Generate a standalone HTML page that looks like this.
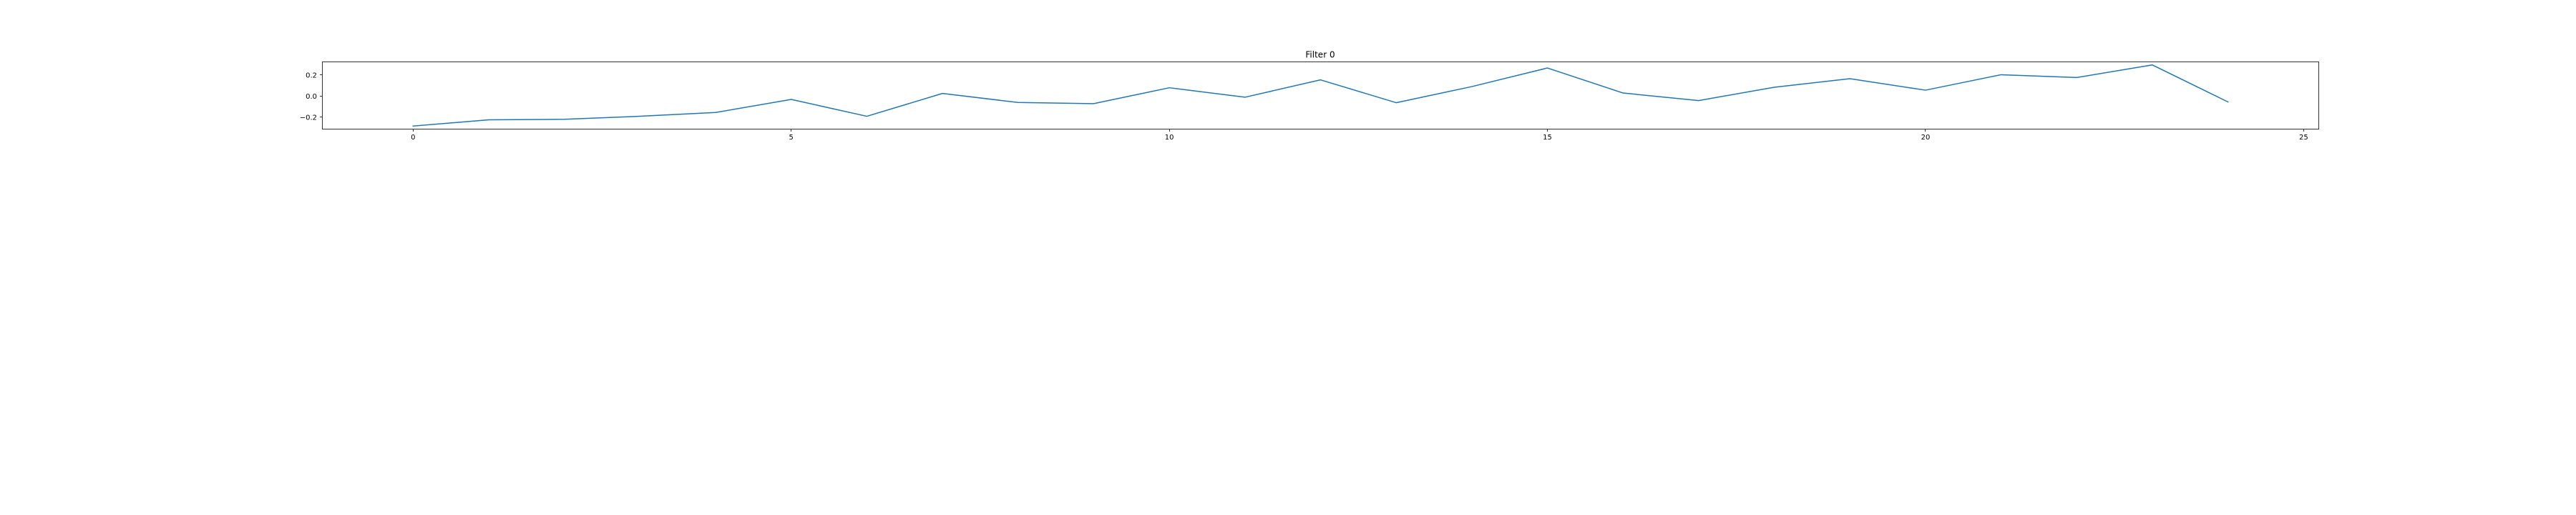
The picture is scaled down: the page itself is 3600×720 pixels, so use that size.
<!DOCTYPE html>
<html lang="en">
<head>
<meta charset="utf-8">
<title>Filter 0</title>
<style>
  html, body { margin: 0; padding: 0; background: #ffffff; }
  body { width: 3600px; height: 720px; overflow: hidden; }
  svg { display: block; }
  text { font-family: "DejaVu Sans", "Liberation Sans", sans-serif; fill: #000000; }
</style>
</head>
<body>
<svg id="chart" xmlns="http://www.w3.org/2000/svg" width="3600" height="720" viewBox="0 0 3600 720">
  <rect x="0" y="0" width="3600" height="720" fill="#ffffff"></rect>
  <g id="marks"></g>
  <g id="xticks"></g>
  <g id="yticks"></g>
  <rect x="450.5" y="86.5" width="2790" height="94" fill="none" stroke="#333333" stroke-width="1"></rect>
  <text x="1845" y="80.4" font-size="12" text-anchor="middle">Filter 0</text>
</svg>
<script>
const filterSteps = [0, 1, 2, 3, 4, 5, 6, 7, 8, 9, 10, 11, 12, 13, 14, 15, 16, 17, 18, 19, 20, 21, 22, 23, 24];
const filterValues = [-0.285, -0.226, -0.221, -0.192, -0.156, -0.032, -0.192, 0.025, -0.061, -0.072, 0.079, -0.011, 0.154, -0.063, 0.090, 0.267, 0.029, -0.043, 0.084, 0.165, 0.056, 0.203, 0.176, 0.296, -0.056];
const xTickValues = [0, 5, 10, 15, 20, 25];
const yTickValues = [-0.2, 0.0, 0.2];
const yTickLabels = ['\u22120.2', '0.0', '0.2'];

const SVG_NS = 'http://www.w3.org/2000/svg';
const plot = { left: 450.5, right: 3240.5, top: 86.5, bottom: 180.5 };

function paddedDomain(values) {
  const lo = Math.min.apply(null, values);
  const hi = Math.max.apply(null, values);
  const pad = (hi - lo) * 0.05;
  return [lo - pad, hi + pad];
}

const xDomain = paddedDomain(filterSteps);
const yDomain = paddedDomain(filterValues);

function xScale(v) {
  return plot.left + (v - xDomain[0]) / (xDomain[1] - xDomain[0]) * (plot.right - plot.left);
}
function yScale(v) {
  return plot.bottom - (v - yDomain[0]) / (yDomain[1] - yDomain[0]) * (plot.bottom - plot.top);
}

const marks = document.getElementById('marks');
const xGroup = document.getElementById('xticks');
const yGroup = document.getElementById('yticks');

const pathData = filterValues.map(function (v, i) {
  return (i === 0 ? 'M' : 'L') + xScale(filterSteps[i]).toFixed(2) + ' ' + yScale(v).toFixed(2);
}).join(' ');

const line = document.createElementNS(SVG_NS, 'path');


line.setAttribute('d', pathData);
line.setAttribute('fill', 'none');
line.setAttribute('stroke', '#1f77b4');
line.setAttribute('stroke-width', '1.5');
line.setAttribute('stroke-linejoin', 'round');
line.setAttribute('stroke-linecap', 'square');
marks.appendChild(line);

xTickValues.forEach(function (v) {
  const px = Math.round(xScale(v) - 0.5) + 0.5;
  const tick = document.createElementNS(SVG_NS, 'line');
  
  
  tick.setAttribute('x1', px);
  tick.setAttribute('x2', px);
  tick.setAttribute('y1', plot.bottom);
  tick.setAttribute('y2', plot.bottom + 3.5);
  tick.setAttribute('stroke', '#333333');
  tick.setAttribute('stroke-width', '1');
  xGroup.appendChild(tick);

  const label = document.createElementNS(SVG_NS, 'text');
  
  
  label.setAttribute('x', xScale(v));
  label.setAttribute('y', 195);
  label.setAttribute('font-size', '10');
  label.setAttribute('text-anchor', 'middle');
  label.textContent = String(v);
  xGroup.appendChild(label);
});

yTickValues.forEach(function (v, i) {
  const py = Math.round(yScale(v) - 0.5) + 0.5;
  const tick = document.createElementNS(SVG_NS, 'line');
  
  
  tick.setAttribute('x1', plot.left - 3.5);
  tick.setAttribute('x2', plot.left);
  tick.setAttribute('y1', py);
  tick.setAttribute('y2', py);
  tick.setAttribute('stroke', '#333333');
  tick.setAttribute('stroke-width', '1');
  yGroup.appendChild(tick);

  const label = document.createElementNS(SVG_NS, 'text');
  
  
  label.setAttribute('x', 443);
  label.setAttribute('y', yScale(v) + 3.7);
  label.setAttribute('font-size', '10');
  label.setAttribute('text-anchor', 'end');
  label.textContent = yTickLabels[i];
  yGroup.appendChild(label);
});
</script>
</body>
</html>
